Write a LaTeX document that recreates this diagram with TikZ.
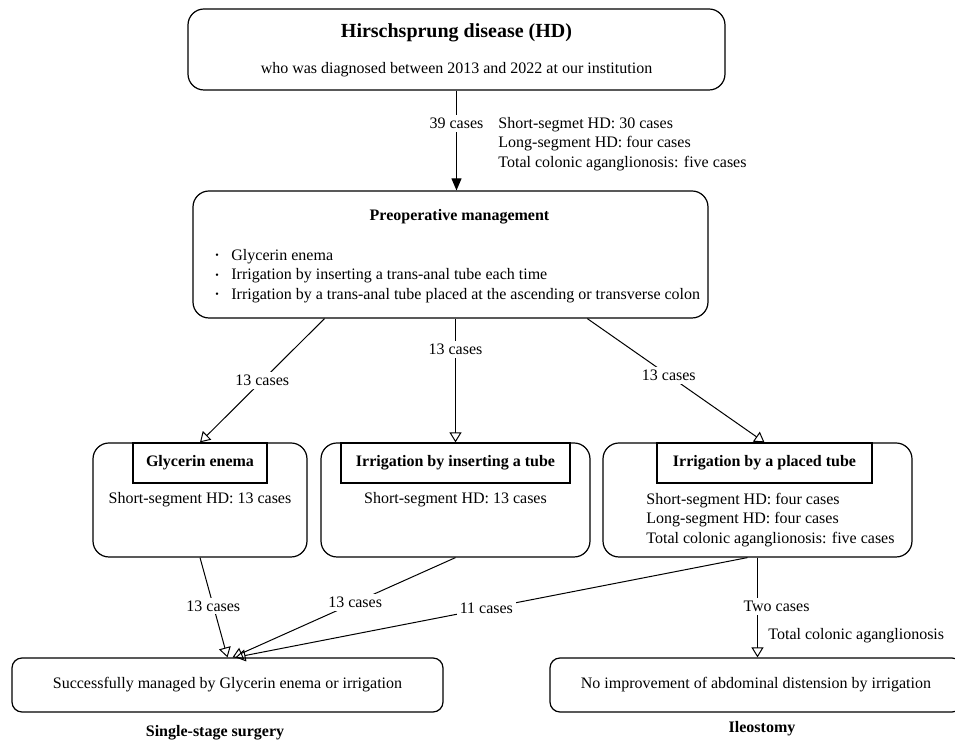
\documentclass[tikz,border=0pt]{standalone}
\usepackage{fontspec}
\setmainfont{Liberation Serif}
\usetikzlibrary{arrows.meta,calc}
\tikzset{
  box/.style={draw, line width=0.6pt, rounded corners=8pt},
  smallbox/.style={draw, line width=0.6pt, rounded corners=5pt},
  head/.style={draw, line width=0.6pt, fill=white},
  txt/.style={inner sep=0pt, font=\fontsize{8}{9.75}\selectfont},
  ttl/.style={inner sep=0pt, font=\bfseries\fontsize{8}{9.75}\selectfont},
  lbl/.style={fill=white, inner sep=1.5pt, font=\fontsize{8}{9.75}\selectfont},
  hollow/.style={line width=0.5pt, -{Triangle[open,width=6pt,length=5pt]}},
  solid arrow/.style={line width=0.5pt, -{Triangle[width=5pt,length=6pt]}},
}
\newcommand{\dotitem}{\makebox[9pt][l]{\hspace{1pt}\raisebox{0.9pt}{\fontsize{5}{5}\selectfont\textbullet}}}
\begin{document}
\begin{tikzpicture}[x=0.5pt,y=-0.5pt]
  \useasboundingbox (0,0) rectangle (955,742);
  % boxes
  \node[box, minimum width=268.5pt, minimum height=40.5pt] (hd) at (456.5,49.5) {};
  \node[box, minimum width=257.5pt, minimum height=63.5pt] (pre) at (450.5,254.5) {};
  \node[box, minimum width=107pt, minimum height=57pt] (gly) at (200,500) {};
  \node[box, minimum width=134.5pt, minimum height=57pt] (ins) at (455.5,500) {};
  \node[box, minimum width=154.5pt, minimum height=57pt] (pla) at (757.5,500) {};
  \node[head, minimum width=67pt, minimum height=20pt] (gly head) at (200,463) {};
  \node[head, minimum width=114.5pt, minimum height=20pt] (ins head) at (455.5,463) {};
  \node[head, minimum width=107.5pt, minimum height=20pt] (pla head) at (764.5,463) {};
  \node[smallbox, minimum width=215.5pt, minimum height=27pt] (succ) at (227.5,685) {};
  \node[smallbox, minimum width=206pt, minimum height=27pt] (noimp) at (756,685) {};
  % texts
  \node[inner sep=0pt, font=\bfseries\fontsize{10}{12}\selectfont] (hd title) at (456.5,33) {Hirschsprung disease (HD)};
  \node[txt] (hd sub) at (456.5,70) {who was diagnosed between 2013 and 2022 at our institution};
  \node[txt, anchor=west, align=left] (info) at (498,144)
    {Short-segmet HD: 30 cases\\Long-segment HD: four cases\\Total colonic aganglionosis: five cases};
  \node[ttl] (pre title) at (459.5,217) {Preoperative management};
  \node[txt, anchor=west, align=left] (pre list) at (213,276)
    {\dotitem Glycerin enema\\
     \dotitem Irrigation by inserting a trans-anal tube each time\\
     \dotitem Irrigation by a trans-anal tube placed at the ascending or transverse colon};
  \node[ttl] (gly title) at (gly head) {Glycerin enema};
  \node[ttl] (ins title) at (ins head) {Irrigation by inserting a tube};
  \node[ttl] (pla title) at (pla head) {Irrigation by a placed tube};
  \node[txt] (gly text) at (200,500) {Short-segment HD: 13 cases};
  \node[txt] (ins text) at (455.5,500) {Short-segment HD: 13 cases};
  \node[txt, anchor=west, align=left] (pla text) at (646,520)
    {Short-segment HD: four cases\\Long-segment HD: four cases\\Total colonic aganglionosis: five cases};
  \node[txt] (succ text) at (succ) {Successfully managed by Glycerin enema or irrigation};
  \node[txt] (noimp text) at (noimp) {No improvement of abdominal distension by irrigation};
  \node[ttl] (single) at (215,733) {Single-stage surgery};
  \node[ttl] (ileo) at (762,729) {Ileostomy};
  \node[txt, anchor=west] (tca) at (768,636) {Total colonic aganglionosis};
  % arrows
  \draw[solid arrow] (hd.south) -- (hd.south |- pre.north) node[lbl, pos=0.33] {39 cases};
  \draw[hollow] ($(pre.south west)!0.256!(pre.south east)$) -- (gly head.north) node[lbl, pos=0.5] {13 cases};
  \draw[hollow] (ins head.north |- pre.south) -- (ins head.north) node[lbl, pos=0.25] {13 cases};
  \draw[hollow] ($(pre.south west)!0.765!(pre.south east)$) -- (pla head.north) node[lbl, pos=0.46] {13 cases};
  \draw[hollow] (gly.south) -- (succ.north) node[lbl, pos=0.485] {13 cases};
  \draw[hollow] (ins.south) -- ($(succ.north)+(5,0)$) node[lbl, pos=0.45] {13 cases};
  \draw[hollow] ($(pla.south)+(-10,0)$) -- ($(succ.north)+(8,0)$) node[lbl, pos=0.51] {11 cases};
  \draw[hollow] (pla.south) -- (pla.south |- noimp.north) node[lbl, pos=0.49, xshift=9.5pt] {Two cases};
\end{tikzpicture}
\end{document}
